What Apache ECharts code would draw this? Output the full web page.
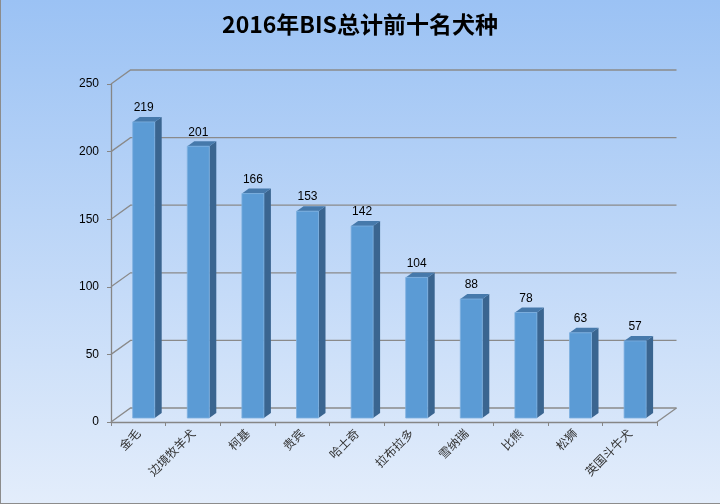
<!DOCTYPE html>
<html>
<head>
<meta charset="utf-8">
<script src="https://cdn.jsdelivr.net/npm/echarts@6/dist/echarts.min.js"></script>
<style>html,body{margin:0;padding:0;}#c{width:720px;height:504px;}</style>
</head>
<body>
<div id="c"></div>
<script>
var categories = ['金毛','边境牧羊犬','柯基','贵宾','哈士奇','拉布拉多','雪纳瑞','比熊','松狮','英国斗牛犬'];
var values = [219,201,166,153,142,104,88,78,63,57];
var yTicks = [0,50,100,150,200,250];

var chart = echarts.init(document.getElementById('c'));
var WALL_DX = 19.5, WALL_DY = 14;
var BAR_OX = 5.4, BAR_OY = -4, BAR_HW = 11, BAR_DX = 7, BAR_DY = 5;
var gridColor = '#8a8a8a';

function renderGrid(params, api) {
  var cs = params.coordSys;
  var t = api.value(1);
  var y = api.coord([0, t])[1];
  var x0 = cs.x, x1 = cs.x + cs.width;
  var children = [{
    type: 'polyline',
    shape: {points: [[x0, y], [x0 + WALL_DX, y - WALL_DY], [x1 + WALL_DX, y - WALL_DY]]},
    style: {stroke: gridColor, lineWidth: 1.3, fill: null}
  }];
  if (t === 0) {
    children.push({
      type: 'line',
      shape: {x1: x1, y1: y, x2: x1 + WALL_DX, y2: y - WALL_DY},
      style: {stroke: gridColor, lineWidth: 1.3}
    });
  }
  return {type: 'group', children: children};
}

function renderBar(params, api) {
  var i = api.value(0), v = api.value(1);
  var top = api.coord([i, v]);
  var bot = api.coord([i, 0]);
  var cx = top[0] + BAR_OX;
  var xl = cx - BAR_HW, xr = cx + BAR_HW;
  var yt = top[1] + BAR_OY, yb = bot[1] + BAR_OY;
  return {
    type: 'group',
    children: [
      {type: 'polygon', shape: {points: [[xr, yt], [xr + BAR_DX, yt - BAR_DY], [xr + BAR_DX, yb - BAR_DY], [xr, yb]]},
        style: {fill: '#3a6590'}},
      {type: 'polygon', shape: {points: [[xl, yt], [xl + BAR_DX, yt - BAR_DY], [xr + BAR_DX, yt - BAR_DY], [xr, yt]]},
        style: {fill: '#4679ab'}},
      {type: 'rect', shape: {x: xl, y: yt, width: xr - xl, height: yb - yt},
        style: {fill: '#5b9bd5', stroke: '#7db0e0', lineWidth: 0.8}},
      {type: 'text', x: cx, y: yt - BAR_DY - 3,
        style: {text: String(v), fill: '#000', font: '12px "Liberation Sans", Arial, sans-serif', align: 'center', verticalAlign: 'bottom'}}
    ]
  };
}

chart.setOption({
  animation: false,
  backgroundColor: {
    type: 'linear', x: 0, y: 0, x2: 0, y2: 1,
    colorStops: [{offset: 0, color: '#9bc2f4'}, {offset: 1, color: '#e3edfb'}]
  },
  title: {
    text: '2016年BIS总计前十名犬种',
    left: 'center', top: 8,
    textStyle: {fontSize: 23, fontWeight: 'bold', color: '#000', fontFamily: '"Noto Sans CJK SC", sans-serif'}
  },
  graphic: [
    {type: 'line', shape: {x1: 0.5, y1: 0, x2: 0.5, y2: 503.5}, style: {stroke: '#8c8c8c', lineWidth: 1}},
    {type: 'line', shape: {x1: 0, y1: 503.5, x2: 720, y2: 503.5}, style: {stroke: '#8c8c8c', lineWidth: 1}}
  ],
  grid: {left: 111, right: 63, top: 84, bottom: 82},
  xAxis: {
    type: 'category',
    data: categories,
    axisLine: {lineStyle: {color: '#868686', width: 1.3}},
    axisTick: {show: true, length: 4, interval: 0, lineStyle: {color: '#868686'}},
    axisLabel: {interval: 0, rotate: 45, margin: 9, fontSize: 12, color: '#333',
      fontFamily: '"Noto Sans CJK SC", sans-serif'}
  },
  yAxis: {
    type: 'value', min: 0, max: 250, interval: 50,
    splitLine: {show: false},
    axisLine: {show: true, lineStyle: {color: '#868686', width: 1.3}},
    axisTick: {show: true, length: 4, lineStyle: {color: '#868686'}},
    axisLabel: {color: '#000', fontSize: 12, margin: 12, fontFamily: '"Liberation Sans", Arial, sans-serif'}
  },
  series: [
    {type: 'custom', renderItem: renderGrid, data: yTicks.map(function (t) { return [0, t]; }), z: 1, clip: false, silent: true},
    {type: 'custom', renderItem: renderBar, data: values.map(function (v, i) { return [i, v]; }), z: 3, clip: false}
  ]
});
</script>
</body>
</html>
